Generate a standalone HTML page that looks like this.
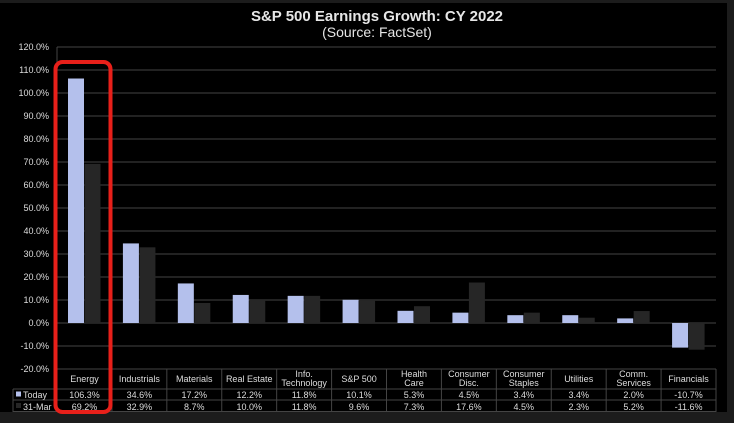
<!DOCTYPE html>
<html><head><meta charset="utf-8"><style>
html,body{margin:0;padding:0;background:#1c1c1c;}
svg{display:block;font-family:"Liberation Sans",Arial,sans-serif;}
</style></head><body>
<svg width="734" height="423" viewBox="0 0 734 423">
<rect x="0" y="0" width="734" height="423" fill="#1c1c1c"/>
<rect x="0" y="3" width="727" height="409" fill="#000"/>
<text x="377" y="21" fill="#e6e6e6" font-size="15" font-weight="bold" text-anchor="middle">S&amp;P 500 Earnings Growth: CY 2022</text>
<text x="377" y="37" fill="#e6e6e6" font-size="14" text-anchor="middle">(Source: FactSet)</text>
<g id="grid" stroke="#444" stroke-width="1"></g>
<g id="ylab" fill="#ddd" font-size="9" text-anchor="end"></g>
<g id="bars"></g>
<g id="table" fill="#ddd" font-size="9" text-anchor="middle"></g>
<rect x="55.5" y="62" width="55" height="350" rx="7" fill="none" stroke="#e8201a" stroke-width="4"/>
</svg>
<script>
const ns="http://www.w3.org/2000/svg";
function el(p,t,a,txt){const e=document.createElementNS(ns,t);for(const k in a)e.setAttribute(k,a[k]);if(txt!==undefined)e.textContent=txt;document.getElementById(p).appendChild(e);return e;}
const y=v=>323-2.3*v;
el('grid','line',{x1:57,y1:47,x2:57,y2:412});
for(let v=120;v>=-20;v-=10){
 if(v>-20) el('grid','line',{x1:57,y1:y(v),x2:716,y2:y(v)});
 el('ylab','text',{x:49,y:y(v)+3},v.toFixed(1)+'%');
}
const cats=[["Energy"],["Industrials"],["Materials"],["Real Estate"],["Info.","Technology"],["S&P 500"],["Health","Care"],["Consumer","Disc."],["Consumer","Staples"],["Utilities"],["Comm.","Services"],["Financials"]];
const a=[106.3,34.6,17.2,12.2,11.8,10.1,5.3,4.5,3.4,3.4,2.0,-10.7];
const b=[69.2,32.9,8.7,10.0,11.8,9.6,7.3,17.6,4.5,2.3,5.2,-11.6];
const w=(716-57)/12;
for(let i=0;i<12;i++){
 const x0=57+i*w;
 const ya=y(a[i]),yb=y(b[i]);
 el('bars','rect',{x:x0+11,y:Math.min(ya,323),width:16,height:Math.abs(ya-323),fill:'#b4c0ec'});
 el('bars','rect',{x:x0+27.5,y:Math.min(yb,323),width:16,height:Math.abs(yb-323),fill:'#262626'});
 const cx=x0+w/2;
 if(cats[i].length==1) el('table','text',{x:cx,y:382},cats[i][0]);
 else {el('table','text',{x:cx,y:377},cats[i][0]);el('table','text',{x:cx,y:386},cats[i][1]);}
 el('table','text',{x:cx,y:398},a[i].toFixed(1)+'%');
 el('table','text',{x:cx,y:410},b[i].toFixed(1)+'%');
 el('grid','line',{x1:x0,y1:369,x2:x0,y2:412});
}
el('grid','line',{x1:716,y1:369,x2:716,y2:412});
el('grid','line',{x1:57,y1:369,x2:716,y2:369});
el('grid','line',{x1:13,y1:389,x2:716,y2:389});
el('grid','line',{x1:13,y1:400,x2:716,y2:400});
el('grid','line',{x1:13,y1:411.5,x2:716,y2:411.5});
el('grid','line',{x1:13,y1:389,x2:13,y2:412});
el('table','rect',{x:16,y:391.5,width:5,height:5,fill:'#b4c0ec'});
el('table','text',{x:23,y:398,'text-anchor':'start'},'Today');
el('table','rect',{x:16,y:403,width:5,height:5,fill:'#262626'});
el('table','text',{x:23,y:410,'text-anchor':'start'},'31-Mar');
</script>
</body></html>
